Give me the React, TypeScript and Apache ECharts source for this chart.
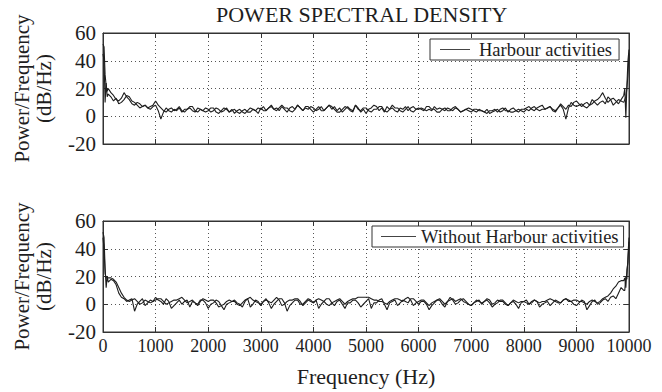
import React, { useEffect, useRef } from "react";
import * as echarts from "echarts";

const FONT = "'Liberation Serif', 'DejaVu Serif', serif";

const freqs = [
  0, 20, 40, 60, 80,
  100, 150, 200, 250, 300, 350, 400, 450, 500, 550, 600, 650, 700, 750, 800, 850, 900, 950,
  1000, 1050, 1100, 1150, 1200, 1250, 1300, 1350, 1400, 1450, 1500, 1550, 1600, 1650, 1700, 1750, 1800, 1850, 1900, 1950,
  2000, 2050, 2100, 2150, 2200, 2250, 2300, 2350, 2400, 2450, 2500, 2550, 2600, 2650, 2700, 2750, 2800, 2850, 2900, 2950,
  3000, 3050, 3100, 3150, 3200, 3250, 3300, 3350, 3400, 3450, 3500, 3550, 3600, 3650, 3700, 3750, 3800, 3850, 3900, 3950,
  4000, 4050, 4100, 4150, 4200, 4250, 4300, 4350, 4400, 4450, 4500, 4550, 4600, 4650, 4700, 4750, 4800, 4850, 4900, 4950,
  5000, 5050, 5100, 5150, 5200, 5250, 5300, 5350, 5400, 5450, 5500, 5550, 5600, 5650, 5700, 5750, 5800, 5850, 5900, 5950,
  6000, 6050, 6100, 6150, 6200, 6250, 6300, 6350, 6400, 6450, 6500, 6550, 6600, 6650, 6700, 6750, 6800, 6850, 6900, 6950,
  7000, 7050, 7100, 7150, 7200, 7250, 7300, 7350, 7400, 7450, 7500, 7550, 7600, 7650, 7700, 7750, 7800, 7850, 7900, 7950,
  8000, 8050, 8100, 8150, 8200, 8250, 8300, 8350, 8400, 8450, 8500, 8550, 8600, 8650, 8700, 8750, 8800, 8850, 8900, 8950,
  9000, 9050, 9100, 9150, 9200, 9250, 9300, 9350, 9400, 9450, 9500, 9550, 9600, 9650, 9700, 9750, 9800, 9850, 9900,
  9920, 9940, 9960, 9980, 10000,
];

const harbourA = [
  52, 50, 30, 22, 18,
  20, 17, 15, 12, 11, 13, 17, 14, 12, 9, 8, 10, 9, 7, 8, 6, 7, 8,
  11, 8, 6, 4, 3, 5, 6, 4, 5, 7, 4, 3, 5, 6, 4, 3, 6, 5, 4, 6,
  5, 3, 4, 6, 5, 3, 4, 6, 3, 5, 2, 4, 5, 3, 2, 4, 6, 5, 4, 6,
  5, 7, 4, 6, 8, 5, 6, 4, 7, 5, 3, 6, 7, 5, 8, 6, 4, 6, 5, 7,
  6, 4, 5, 7, 4, 6, 8, 5, 7, 4, 6, 3, 5, 7, 5, 4, 8, 6, 3, 5,
  2, 5, 6, 8, 7, 4, 6, 3, 7, 5, 6, 4, 3, 6, 5, 7, 4, 6, 7, 5,
  5, 6, 5, 4, 5, 4, 7, 5, 6, 5, 4, 6, 5, 4, 6, 5, 3, 4, 5, 6,
  5, 4, 3, 5, 4, 3, 5, 2, 3, 4, 5, 3, 4, 6, 3, 5, 6, 4, 3, 5,
  5, 6, 7, 5, 4, 6, 7, 8, 5, 6, 7, 5, 4, 6, 9, 7, 5, 8, 7, 10,
  11, 9, 7, 9, 10, 8, 9, 11, 12, 14, 17, 13, 10, 12, 13, 11, 9, 12, 15,
  20, -1, 22, 40, 48,
];

const harbourB = [
  45, 40, 10, 24, 14,
  16, 14, 11, 13, 9, 10, 12, 15, 14, 11, 10, 8, 6, 7, 8, 6, 5, 7,
  8, 4, -2, 3, 6, 4, 3, 5, 4, 6, 3, 5, 5, 7, 7, 4, 3, 5, 4, 3,
  4, 6, 6, 3, 2, 4, 6, 5, 3, 4, 5, 3, 2, 4, 5, 3, 3, 5, 4, 2,
  6, 4, 4, 6, 7, 5, 4, 6, 8, 6, 6, 4, 3, 5, 8, 6, 4, 7, 7, 5,
  3, 5, 7, 4, 4, 6, 8, 7, 5, 3, 3, 5, 7, 6, 4, 3, 8, 5, 4, 6,
  6, 4, 3, 5, 5, 7, 7, 4, 3, 5, 8, 6, 6, 4, 3, 5, 7, 4, 3, 5,
  6, 5, 4, 7, 7, 5, 5, 3, 3, 5, 6, 4, 4, 6, 7, 5, 3, 4, 5, 4,
  3, 5, 5, 4, 4, 3, 2, 4, 4, 5, 3, 5, 6, 4, 4, 3, 3, 4, 5, 4,
  3, 5, 4, 6, 7, 5, 4, 5, 5, 6, 7, 4, 3, 6, 8, 5, -2, 6, 10, 8,
  7, 8, 9, 7, 6, 8, 12, 10, 8, 10, 11, 9, 14, 12, 8, 10, 12, 11, 10,
  12, 14, 20, 30, 45,
];

const withoutA = [
  52, 48, 26, 12, 20,
  16, 18, 17, 14, 8, 5, 4, 2, 3, 4, -5, 0, 2, 4, -1, 1, 3, 2,
  5, 3, 2, 0, 4, 2, -3, -1, 1, 3, 0, 2, 3, -2, 2, 1, 0, 3, 3, 1,
  -3, 0, 1, 3, 2, -1, -4, 0, 1, 2, 3, 1, 0, -2, 2, 4, -2, 0, 3, 2,
  -1, 2, 4, 1, -3, 0, 2, 4, 4, 1, -5, -1, 1, 3, 3, 0, 0, 2, 4, 3,
  1, 3, -3, 0, 2, 4, 4, 1, -1, 2, 3, 0, -3, 1, 1, 3, 3, 1, -2, 0,
  2, 4, -3, 1, 1, 3, 4, 0, -4, 1, 2, 3, -1, 1, 3, 2, 1, 4, 4, 2,
  0, 2, 2, 0, -4, -1, 1, 3, 3, 0, -2, 2, 5, 3, 0, 1, 3, 4, 2, 0,
  -1, 1, 2, 3, 0, 2, 3, 1, -2, 0, 1, 3, 3, 1, -1, 1, 2, 0, -3, 1,
  2, 3, 0, 1, 3, 2, -2, 0, 1, 2, -1, 1, 3, 2, 1, 3, 4, 2, 2, 0,
  -1, 1, 3, 2, -4, -1, 2, 3, 0, 1, 3, 4, 2, 5, 6, 4, 8, 12, 10,
  10, 20, 18, 35, 48,
];

const withoutB = [
  48, 40, 22, 19, 19,
  19, 19, 18, 16, 12, 8, 5, 3, 2, 3, 4, 2, 0, 1, 3, 2, 1, 2,
  3, 4, 4, 2, 0, 1, 2, 3, 3, 4, 5, 3, 1, 2, 3, 1, -1, 2, 4, 3,
  2, 3, 3, 1, -2, -1, 0, 2, 3, 2, 2, 0, -1, 1, 3, 4, 5, 3, 2, 1,
  0, 2, 3, 2, 1, 3, 5, 3, -1, 0, 2, 3, 3, 4, 4, 2, -1, 1, 3, 2,
  1, 3, 4, 3, 2, 0, -1, 1, 2, 3, 4, 2, 0, 2, 3, 4, 4, 5, 5, 5,
  5, 5, 4, 3, 3, 2, 2, 1, 0, 2, 3, 4, 4, 3, 2, 4, 5, 3, -1, 1,
  2, 3, 3, 1, -1, 1, 2, 3, 4, 2, 0, 2, 3, 4, 2, 3, 4, 2, 1, 0,
  -1, 1, 3, 2, 1, 2, 4, 3, 0, 1, 3, 2, 2, 0, -1, 1, 3, 2, 1, 2,
  2, 1, 0, 2, 3, 2, 1, 2, 2, 3, 4, 3, 2, 1, 1, 3, 4, 3, 2, 3,
  3, 2, 2, 1, 0, 2, 3, 2, 1, 2, 4, 5, 6, 8, 11, 13, 16, 17, 17,
  19, 12, 25, 30, 45,
];

const seriesNames = ["Harbour activities", "Without Harbour activities"];
const yTickMin = -20;
const yTickMax = 60;
const yTickStep = 20;
const xTickMin = 0;
const xTickMax = 10000;
const xTickStep = 1000;

const zip = (vals: number[]) => freqs.map((f, i) => [f, vals[i]]);

const INK = "#1e1e1e";
const FRAME = "#333";

function makeX(gridIndex: number, position: "bottom" | "top", showLabels: boolean, withName: boolean, mirror: boolean) {
  return {
    type: "value",
    gridIndex,
    position,
    min: xTickMin,
    max: xTickMax,
    interval: xTickStep,
    name: withName ? "Frequency (Hz)" : "",
    nameLocation: "middle",
    nameGap: 33,
    nameTextStyle: { fontFamily: FONT, fontSize: 22, color: INK },
    axisLine: { show: true, onZero: false, lineStyle: { color: FRAME, width: 1 } },
    axisTick: { show: true, inside: true, length: 5, lineStyle: { color: FRAME } },
    axisLabel: {
      show: showLabels,
      fontFamily: FONT,
      fontSize: 18,
      color: INK,
      margin: 5,
      formatter: (v: number) => String(v),
    },
    splitLine: mirror ? { show: false } : { show: true, lineStyle: { type: [1, 3], color: "#555", width: 1 } },
  };
}

function makeY(gridIndex: number, position: "left" | "right", mirror: boolean) {
  return {
    type: "value",
    gridIndex,
    position,
    min: yTickMin,
    max: yTickMax,
    interval: yTickStep,
    name: mirror ? "" : "Power/Frequency\n(dB/Hz)",
    nameLocation: "middle",
    nameRotate: 90,
    nameGap: 48,
    nameTextStyle: { fontFamily: FONT, fontSize: 21, color: INK, lineHeight: 22 },
    axisLine: { show: true, onZero: false, lineStyle: { color: FRAME, width: 1 } },
    axisTick: { show: true, inside: true, length: 5, lineStyle: { color: FRAME } },
    axisLabel: { show: !mirror, fontFamily: FONT, fontSize: 21, color: INK, margin: 7 },
    splitLine: mirror ? { show: false } : { show: true, lineStyle: { type: [1, 3], color: "#555", width: 1 } },
  };
}

function makeSeries(name: string, vals: number[], axisIndex: number) {
  return {
    type: "line",
    name,
    data: zip(vals),
    xAxisIndex: axisIndex,
    yAxisIndex: axisIndex,
    symbol: "none",
    showSymbol: false,
    clip: true,
    lineStyle: { color: INK, width: 1.1 },
    itemStyle: { color: INK },
    emphasis: { disabled: true },
  };
}

export default function App() {
  const ref = useRef<HTMLDivElement>(null);
  useEffect(() => {
    if (!ref.current) return;
    const chart = echarts.init(ref.current, undefined, { renderer: "svg" });
    chart.setOption({
      animation: false,
      backgroundColor: "#fff",
      textStyle: { fontFamily: FONT },
      title: {
        text: "POWER SPECTRAL DENSITY",
        left: 216,
        top: 3,
        padding: 0,
        textStyle: { fontFamily: FONT, fontSize: 22, fontWeight: "normal", color: INK },
      },
      grid: [
        { left: 103, top: 33, width: 526, height: 111, show: true, borderColor: FRAME, borderWidth: 1, backgroundColor: "#fff" },
        { left: 103, top: 221, width: 526, height: 111, show: true, borderColor: FRAME, borderWidth: 1, backgroundColor: "#fff" },
      ],
      xAxis: [
        makeX(0, "bottom", false, false, false),
        makeX(0, "top", false, false, true),
        makeX(1, "bottom", true, true, false),
        makeX(1, "top", false, false, true),
      ],
      yAxis: [
        makeY(0, "left", false),
        makeY(0, "right", true),
        makeY(1, "left", false),
        makeY(1, "right", true),
      ],
      legend: [
        {
          data: [seriesNames[0]],
          left: 430,
          top: 39,
          padding: [1, 7, 1, 10],
          backgroundColor: "#fff",
          borderColor: FRAME,
          borderWidth: 1,
          borderRadius: 0,
          icon: "rect",
          itemWidth: 30,
          itemHeight: 1,
          itemStyle: { color: "#444" },
          selectedMode: false,
          textStyle: { fontFamily: FONT, fontSize: 18.5, color: INK, lineHeight: 16, padding: [0, 0, 0, 4] },
        },
        {
          data: [seriesNames[1]],
          left: 372,
          top: 226,
          padding: [1, 5, 1, 9],
          backgroundColor: "#fff",
          borderColor: FRAME,
          borderWidth: 1,
          borderRadius: 0,
          icon: "rect",
          itemWidth: 35,
          itemHeight: 1,
          itemStyle: { color: "#444" },
          selectedMode: false,
          textStyle: { fontFamily: FONT, fontSize: 18.5, color: INK, lineHeight: 16 },
        },
      ],
      series: [
        makeSeries(seriesNames[0], harbourA, 0),
        makeSeries(seriesNames[0], harbourB, 0),
        makeSeries(seriesNames[1], withoutA, 2),
        makeSeries(seriesNames[1], withoutB, 2),
      ],
    });
    return () => chart.dispose();
  }, []);
  return (
    <div
      ref={ref}
      style={{ position: "absolute", left: 0, top: 0, width: 662, height: 392 }}
    />
  );
}
